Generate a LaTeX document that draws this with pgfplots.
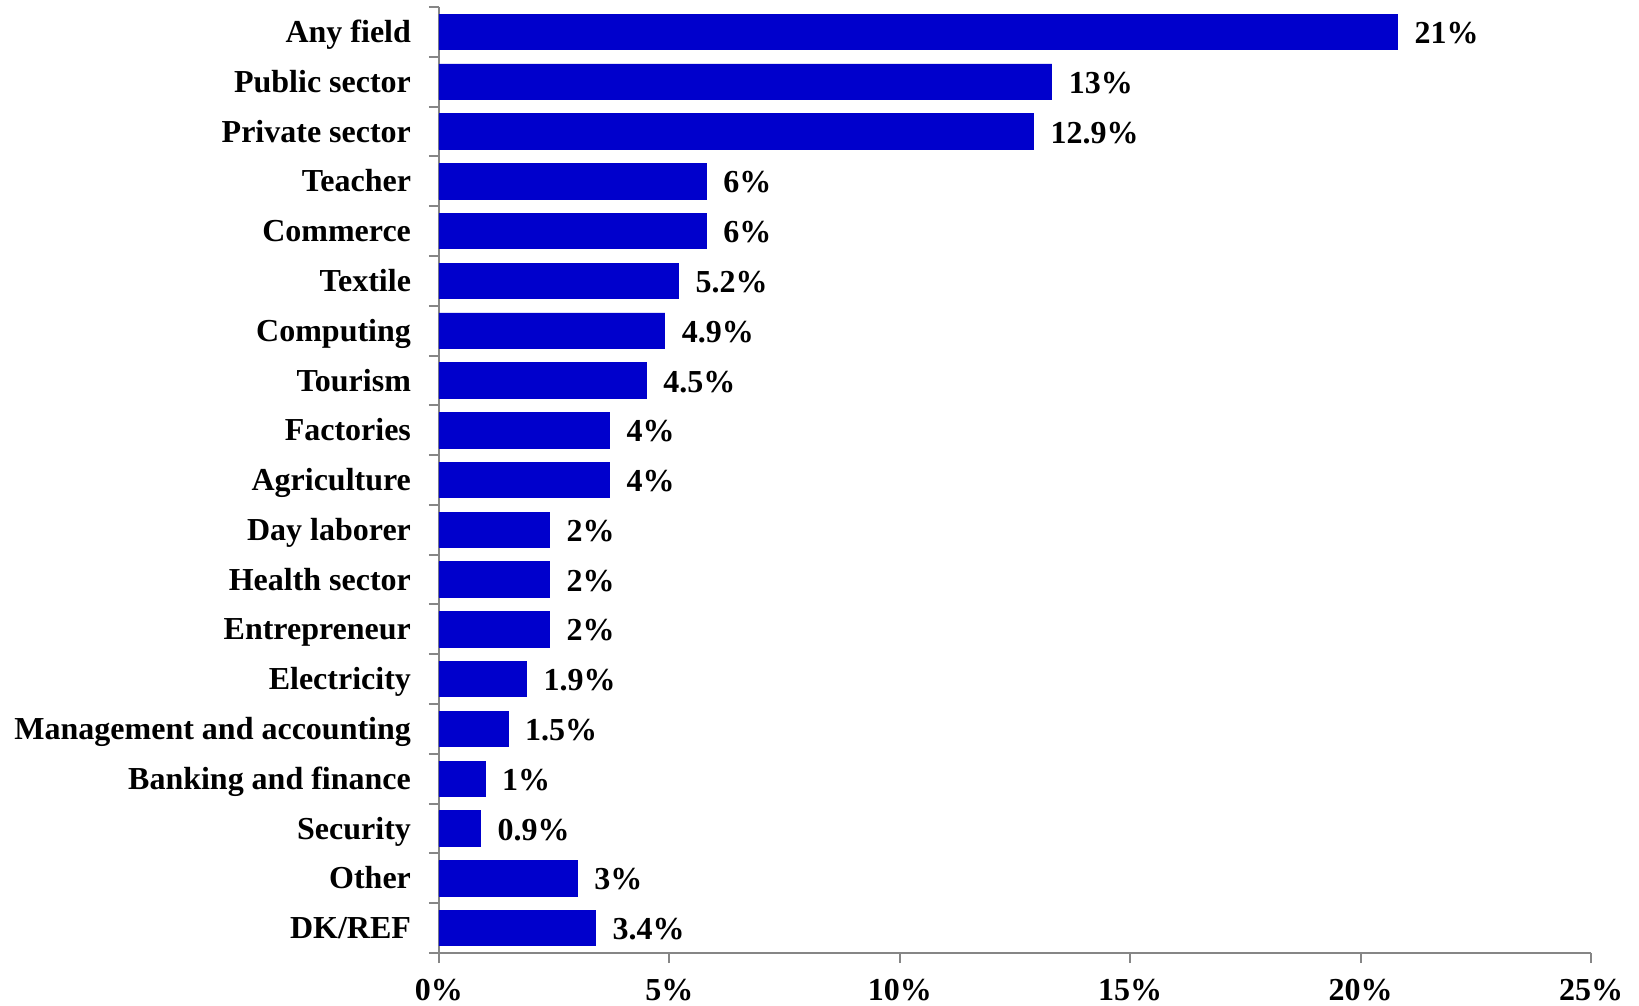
\documentclass[border=0pt]{standalone}
\usepackage{fontspec}
\setmainfont{Liberation Serif}
\usepackage{pgfplots}
\pgfplotsset{compat=1.18}
\definecolor{barblue}{RGB}{0,0,204}
\definecolor{axgray}{RGB}{134,134,134}
\begin{document}
\begin{tikzpicture}
\begin{axis}[
  scale only axis, width=576pt, height=473pt,
  xbar, bar width=17.7pt,
  xmin=0, xmax=25, ymin=-0.5, ymax=18.5, y dir=reverse,
  axis x line*=bottom, axis y line*=left,
  axis line style={axgray, line width=1pt, -},
  tick align=outside,
  major tick length=5pt, minor tick length=5pt,
  every tick/.style={axgray, line width=1pt},
  xtick={0,5,...,25},
  xticklabel={\pgfmathprintnumber{\tick}\%},
  /pgf/number format/assume math mode=true,
  ytick={0,...,18},
  minor ytick={-0.5,0.5,...,18.5},
  major y tick style={draw=none},
  yticklabels={Any field, Public sector, Private sector, Teacher, Commerce, Textile, Computing, Tourism, Factories, Agriculture, Day laborer, Health sector, Entrepreneur, Electricity, Management and accounting, Banking and finance, Security, Other, DK/REF},
  ticklabel style={font=\fontsize{16}{19}\selectfont\bfseries},
  yticklabel style={xshift=-5.5pt, text height=0.68em, text depth=0.22em, yshift=-3pt},
  xticklabel style={yshift=-7pt, text depth=0pt, inner sep=1pt},
  point meta=explicit symbolic,
  nodes near coords,
  nodes near coords style={anchor=west, xshift=5pt, yshift=-3.5pt, text height=0.68em, text depth=0.22em, font=\fontsize{16}{19}\selectfont\bfseries, text=black},
]
\addplot[fill=barblue, draw=barblue] coordinates {
  (20.8,0) [21\%]
  (13.3,1) [13\%]
  (12.9,2) [12.9\%]
  (5.8,3) [6\%]
  (5.8,4) [6\%]
  (5.2,5) [5.2\%]
  (4.9,6) [4.9\%]
  (4.5,7) [4.5\%]
  (3.7,8) [4\%]
  (3.7,9) [4\%]
  (2.4,10) [2\%]
  (2.4,11) [2\%]
  (2.4,12) [2\%]
  (1.9,13) [1.9\%]
  (1.5,14) [1.5\%]
  (1.0,15) [1\%]
  (0.9,16) [0.9\%]
  (3.0,17) [3\%]
  (3.4,18) [3.4\%]
};
\end{axis}
\path (current axis.south west) ++(-219.5pt,-26pt) coordinate (bbA);
\path (current axis.north east) ++(24pt,3.5pt) coordinate (bbB);
\path (bbA) rectangle (bbB);
\end{tikzpicture}
\end{document}
